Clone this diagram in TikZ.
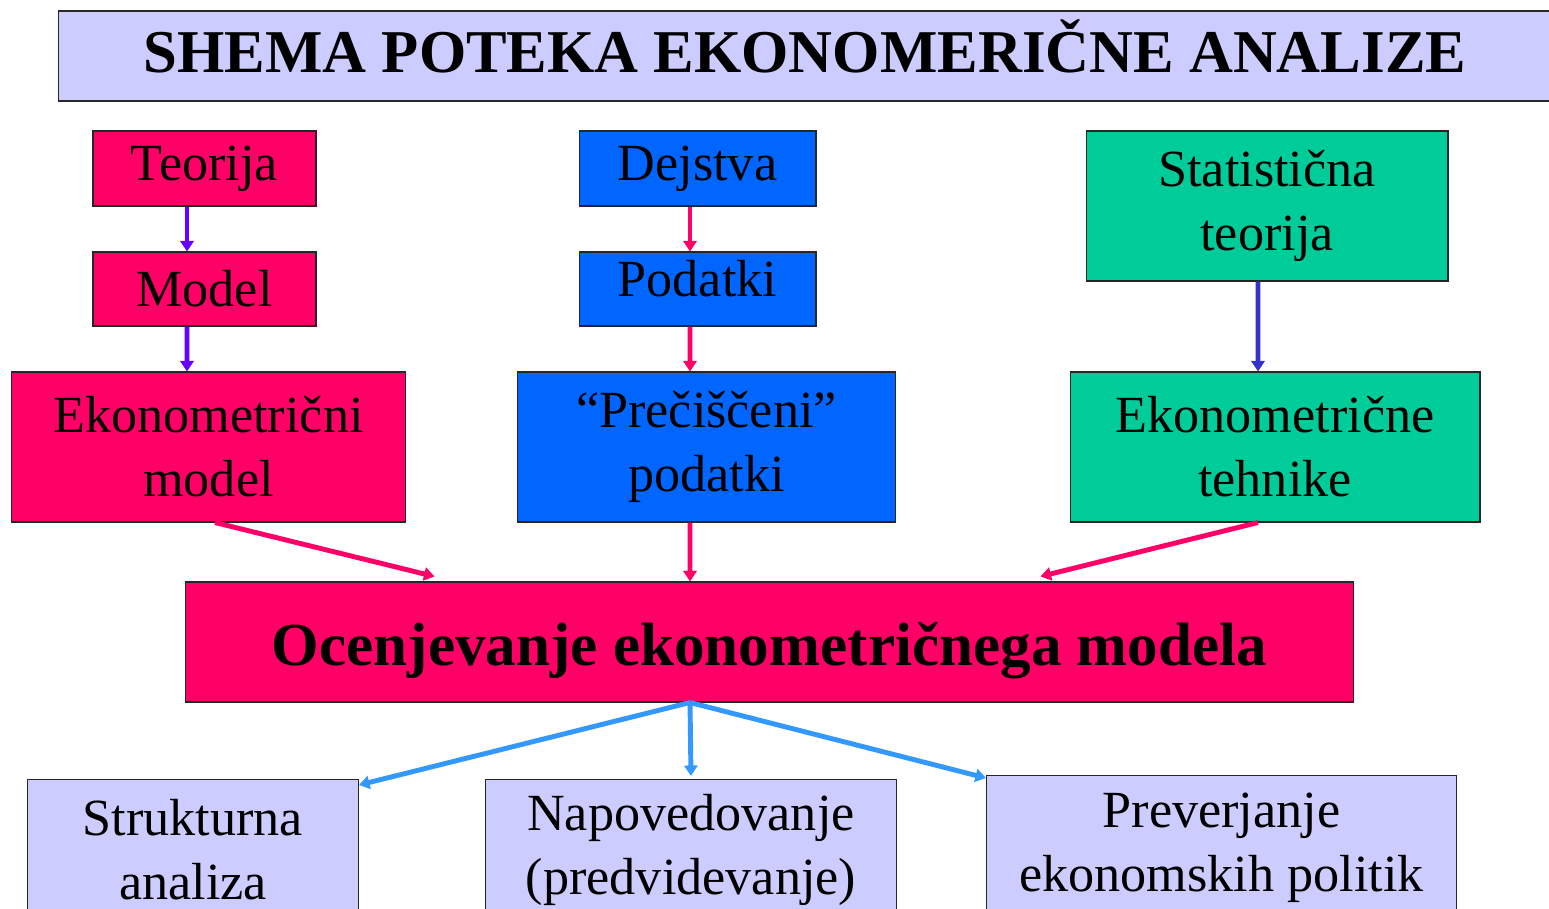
\documentclass[tikz,border=0pt]{standalone}
\usepackage{fontspec}
\setmainfont{Liberation Serif}
\usetikzlibrary{arrows.meta}
\definecolor{HotPink}{RGB}{255,0,102}
\definecolor{BrightBlue}{RGB}{0,102,255}
\definecolor{SeaGreen}{RGB}{0,204,153}
\definecolor{Lavender}{RGB}{204,204,255}
\definecolor{Violet}{RGB}{102,0,255}
\definecolor{DarkBlue}{RGB}{51,51,204}
\definecolor{SkyBlue}{RGB}{51,153,255}

\begin{document}
\begin{tikzpicture}[
          x=0.02cm, y=-0.02cm,
          box/.style={rectangle, draw=black!85, line width=0.6pt, inner sep=0pt, align=center, font=\fontsize{29.7}{36.5}\selectfont},
          pinkbox/.style={box, fill=HotPink},
          bluebox/.style={box, fill=BrightBlue},
          greenbox/.style={box, fill=SeaGreen},
          lavbox/.style={box, fill=Lavender},
          arrow/.style={-{Triangle[length=6pt, width=7.5pt]}, line width=2.8pt},
          pinkarrow/.style={arrow, HotPink},
          violetarrow/.style={arrow, Violet},
          darkarrow/.style={arrow, DarkBlue},
          skyarrow/.style={arrow, SkyBlue}
        ]
          \useasboundingbox (0,0) rectangle (1549,909);
          \clip (0,0) rectangle (1549,909);

          % title
          \node (title) [lavbox, minimum width=29.88cm, minimum height=1.8cm, text height=0.78cm, text depth=0.1cm, font=\fontsize{34.6}{40}\selectfont\bfseries] at (805,56) {SHEMA POTEKA EKONOMERIČNE ANALIZE};

          % left column
          \node (teorija) [pinkbox, minimum width=4.46cm, minimum height=1.5cm] at (204.5,168.5) {Teorija};
          \node (model) [pinkbox, minimum width=4.46cm, minimum height=1.48cm] at (204.5,289) {Model};
          \node (ekmodel) [pinkbox, minimum width=7.9cm, minimum height=3cm] at (208.5,447) {Ekonometrični\\model};

          % middle column
          \node (dejstva) [bluebox, minimum width=4.74cm, minimum height=1.5cm] at (697.5,168.5) {Dejstva};
          \node (podatki) [bluebox, minimum width=4.74cm, minimum height=1.48cm, text height=0.4cm, text depth=0.12cm] at (697.5,289) {Podatki};
          \node (precisceni) [bluebox, minimum width=7.58cm, minimum height=3cm] at (706.5,447) {“Prečiščeni”\\podatki};

          % right column
          \node (statteorija) [greenbox, minimum width=7.24cm, minimum height=3cm] at (1267,206) {Statistična\\teorija};
          \node (tehnike) [greenbox, minimum width=8.2cm, minimum height=3cm] at (1275,447) {Ekonometrične\\tehnike};

          % estimation
          \node (ocena) [pinkbox, minimum width=23.38cm, minimum height=2.4cm, text height=1cm, text depth=0.08cm, font=\fontsize{34.8}{40}\selectfont\bfseries] at (769.5,642) {Ocenjevanje ekonometričnega modela};

          % uses
          \node (strukturna) [lavbox, minimum width=6.62cm, minimum height=2.8cm, anchor=north west] at (27,779) {Strukturna\\analiza};
          \node (napoved) [lavbox, minimum width=8.22cm, minimum height=2.8cm, anchor=north west] at (485,779) {Napovedovanje\\(predvidevanje)};
          \node (preverjanje) [lavbox, minimum width=9.4cm, minimum height=2.9cm, anchor=north west] at (986,775) {Preverjanje\\ekonomskih politik};

          \coordinate (hub) at ([xshift=-1.59cm]ocena.south);

          \draw [violetarrow] ([xshift=-0.35cm]teorija.south) -- ([xshift=-0.35cm]model.north);
          \draw [violetarrow] ([xshift=-0.35cm]model.south) -- ([xshift=-0.43cm]ekmodel.north);
          \draw [pinkarrow] ([xshift=-0.15cm]dejstva.south) -- ([xshift=-0.15cm]podatki.north);
          \draw [pinkarrow] ([xshift=-0.15cm]podatki.south) -- ([xshift=-0.33cm]precisceni.north);
          \draw [darkarrow] ([xshift=-0.18cm]statteorija.south) -- ([xshift=-0.34cm]tehnike.north);

          \draw [pinkarrow] ([xshift=0.13cm]ekmodel.south) -- ([xshift=5cm, yshift=0.1cm]ocena.north west);
          \draw [pinkarrow] ([xshift=-0.33cm]precisceni.south) -- ([xshift=-1.59cm]ocena.north);
          \draw [pinkarrow] ([xshift=-0.34cm]tehnike.south) -- ([xshift=-6.28cm, yshift=0.1cm]ocena.north east);

          \draw [skyarrow] (hub) -- ([yshift=-0.12cm]strukturna.north east);
          \draw [skyarrow] (hub) -- ([yshift=0.06cm]napoved.north);
          \draw [skyarrow] (hub) -- ([yshift=-0.06cm]preverjanje.north west);
        \end{tikzpicture}
\end{document}
